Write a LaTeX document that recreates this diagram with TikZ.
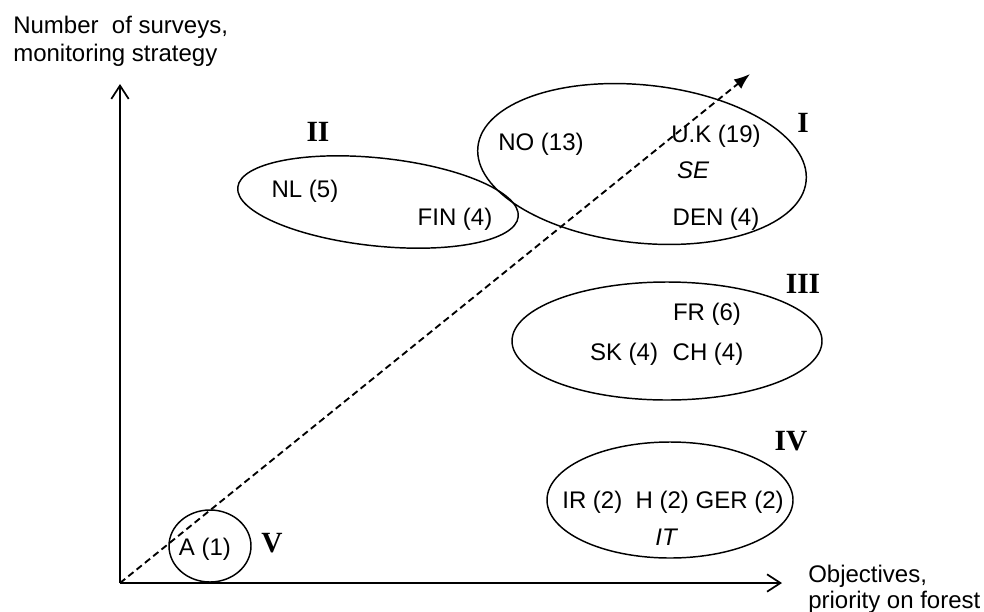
\documentclass[tikz,border=0pt]{standalone}
\usepackage{fontspec}
\setmainfont{Liberation Sans}
\newfontfamily\numfont{Liberation Serif}
\usetikzlibrary{shapes.geometric,arrows.meta}
\begin{document}
\begin{tikzpicture}[x=0.75pt,y=-0.75pt,
  grp/.style={draw, ellipse, line width=1.1pt, inner sep=0pt},
  lbl/.style={anchor=base, inner sep=0pt, font=\fontsize{18}{22}\selectfont},
  ttl/.style={anchor=base west, inner sep=0pt, font=\fontsize{18}{22}\selectfont},
  roman/.style={anchor=base, inner sep=0pt, font=\fontsize{22}{26}\selectfont\numfont\bfseries},
  axis/.style={line width=1.5pt, -{Straight Barb[length=10pt,width=13pt,line width=1.3pt]}},
  trend/.style={line width=1.4pt, dash pattern=on 5pt off 3pt, -{Latex[length=12pt,width=9pt]}}]
\useasboundingbox (0,0) rectangle (984,611);
% axes
\coordinate (O) at (120,583);
\coordinate (ytip) at (120,84);
\coordinate (xtip) at (782,583);
\coordinate (dtip) at (750,74);
\draw[axis] (O) -- (ytip);
\draw[axis] (O) -- (xtip);
% groups
\node[grp, minimum width=247.5pt, minimum height=118.5pt, rotate=-6] (gI) at (642,164) {};
\node[grp, minimum width=211.5pt, minimum height=66pt, rotate=-6] (gII) at (378,202) {};
\node[grp, minimum width=232.5pt, minimum height=88.5pt] (gIII) at (667,341) {};
\node[grp, minimum width=184.5pt, minimum height=87pt] (gIV) at (670,500) {};
\node[grp, minimum width=61.5pt, minimum height=54pt] (gV) at (210,546) {};
% trend
\draw[trend] (O) -- (dtip);
% axis titles
\node[ttl] (yl1) at (13,33) {Number\ \ of surveys,};
\node[ttl] (yl2) at (13,61) {monitoring strategy};
\node[ttl] (xl1) at (808,582) {Objectives,};
\node[ttl] (xl2) at (808,608) {priority on forest};
% group I
\node[lbl] (no) at (541,150) {NO (13)};
\node[lbl] (uk) at (716,142) {U.K (19)};
\node[lbl] (se) at (693,178) {\itshape SE};
\node[lbl] (den) at (716,225) {DEN (4)};
\node[roman] (rI) at (803,132) {I};
% group II
\node[lbl] (nl) at (305,197) {NL (5)};
\node[lbl] (fin) at (455,225) {FIN (4)};
\node[roman] (rII) at (318,141) {II};
% group III
\node[lbl] (fr) at (707,320) {FR (6)};
\node[lbl] (sk) at (624,360) {SK (4)};
\node[lbl] (ch) at (708,360) {CH (4)};
\node[roman] (rIII) at (803,293) {III};
% group IV
\node[lbl] (ir) at (673,508) {IR (2)\ \ H (2) GER (2)};
\node[lbl] (it) at (666,545) {\itshape IT};
\node[roman] (rIV) at (791,450) {IV};
% group V
\node[lbl] (a) at (205,555) {A (1)};
\node[roman] (rV) at (272,552) {V};
\end{tikzpicture}
\end{document}
